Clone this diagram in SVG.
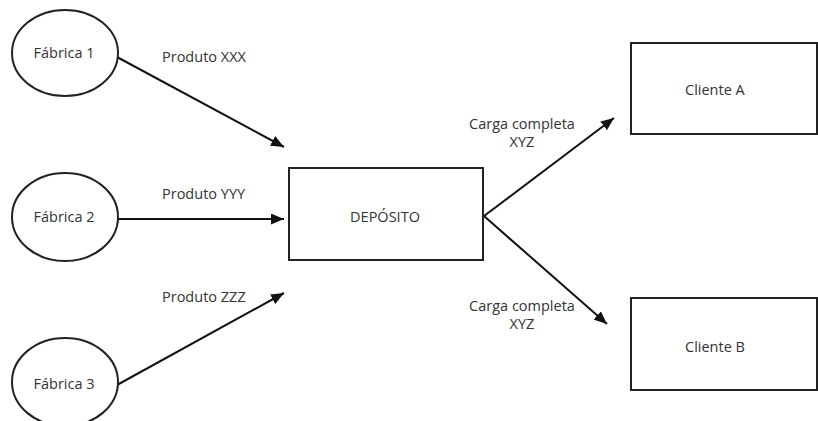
<svg xmlns="http://www.w3.org/2000/svg" width="818" height="421" viewBox="0 0 818 421">
<style>
.n{fill:#fff;stroke:#222;stroke-width:2}
.t{font-family:"Open Sans","Noto Sans",sans-serif;font-size:14.5px;fill:#333}
.c{text-anchor:middle}
.e{stroke:#111;stroke-width:2;fill:none}
</style>
<defs>
<marker id="a" viewBox="0 0 13 11" refX="13" refY="5.5" markerWidth="13" markerHeight="11" markerUnits="userSpaceOnUse" orient="auto">
<path d="M0,0L13,5.5L0,11Z" fill="#111"/>
</marker>
</defs>
<rect width="818" height="421" fill="#fff"/>
<g id="connectors">
<line class="e" x1="117" y1="57" x2="284" y2="147" marker-end="url(#a)"/>
<line class="e" x1="118" y1="219" x2="284" y2="219" marker-end="url(#a)"/>
<line class="e" x1="117" y1="385" x2="284" y2="293" marker-end="url(#a)"/>
<line class="e" x1="484" y1="216" x2="614" y2="118" marker-end="url(#a)"/>
<line class="e" x1="484" y1="216" x2="607" y2="324" marker-end="url(#a)"/>
<text class="t" x="162" y="62">Produto XXX</text>
<text class="t" x="162" y="199">Produto YYY</text>
<text class="t" x="162" y="302">Produto ZZZ</text>
<text class="t c" x="522" y="129">Carga completa</text>
<text class="t c" x="522" y="147">XYZ</text>
<text class="t c" x="522" y="311">Carga completa</text>
<text class="t c" x="522" y="329">XYZ</text>
</g>
<g id="fabrica1">
<ellipse class="n" cx="65" cy="53" rx="53" ry="43"/>
<text class="t c" x="64" y="58">Fábrica 1</text>
</g>
<g id="fabrica2">
<ellipse class="n" cx="65" cy="217" rx="53" ry="44"/>
<text class="t c" x="64" y="222">Fábrica 2</text>
</g>
<g id="fabrica3">
<ellipse class="n" cx="65" cy="382" rx="53" ry="44"/>
<text class="t c" x="64" y="389">Fábrica 3</text>
</g>
<g id="deposito">
<rect class="n" x="289" y="168" width="194" height="92"/>
<text class="t c" x="385" y="222">DEPÓSITO</text>
</g>
<g id="clienteA">
<rect class="n" x="631" y="43" width="186" height="91"/>
<text class="t" x="685" y="95">Cliente A</text>
</g>
<g id="clienteB">
<rect class="n" x="631" y="298" width="186" height="92"/>
<text class="t" x="685" y="352">Cliente B</text>
</g>
</svg>
